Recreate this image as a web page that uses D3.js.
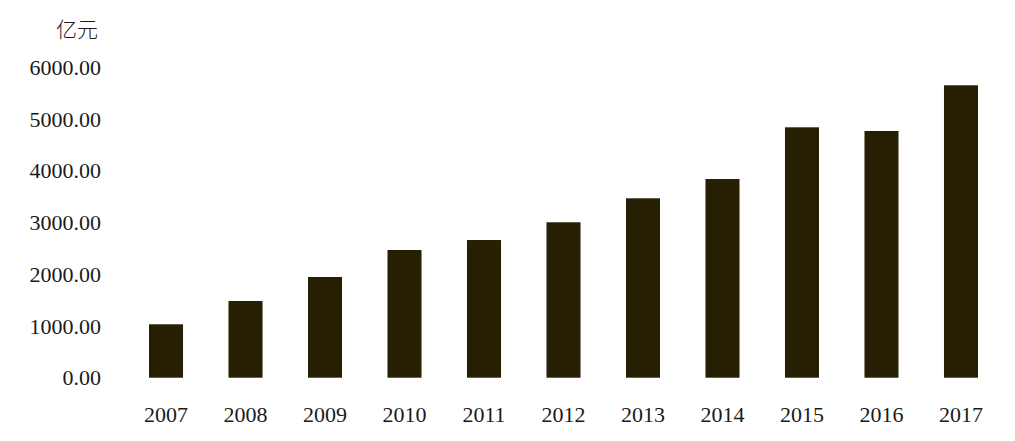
<!DOCTYPE html>
<html><head><meta charset="utf-8">
<script src="https://cdn.jsdelivr.net/npm/d3@7/dist/d3.min.js"></script>
<style>html,body{margin:0;padding:0;background:#fff;}</style>
</head><body>
<svg id="c" width="1015" height="441"></svg>
<script>
const years = ["2007","2008","2009","2010","2011","2012","2013","2014","2015","2016","2017"];
const values = [1033, 1484, 1948, 2470, 2663, 3006, 3470, 3843, 4843, 4772, 5656];
const yTicks = [0, 1000, 2000, 3000, 4000, 5000, 6000];
const unitLabel = "亿元";

const svg = d3.select("#c");
const x = d3.scaleBand().domain(years).range([149, 978]).paddingInner(0.572).paddingOuter(0);
const y = d3.scaleLinear().domain([0, 6000]).range([377.7, 67.5]);

svg.append("g").selectAll("rect").data(values).join("rect")
  .attr("x", (d, i) => x(years[i]))
  .attr("width", x.bandwidth())
  .attr("y", d => y(d))
  .attr("height", d => y(0) - y(d))
  .attr("fill", "#261f04");

const yAxis = svg.append("g").attr("transform", "translate(101,0)")
  .call(d3.axisLeft(y).tickValues(yTicks).tickFormat(d3.format(".2f")).tickSize(0).tickPadding(0));
yAxis.select(".domain").remove();
yAxis.selectAll("text").attr("font-family", "'Liberation Serif', serif").attr("font-size", 22).attr("fill", "#1a1a1a").attr("dy", "0.32em");

const xAxis = svg.append("g").attr("transform", "translate(0,406)")
  .call(d3.axisBottom(x).tickSize(0).tickPadding(0));
xAxis.select(".domain").remove();
xAxis.selectAll("text").attr("font-family", "'Liberation Serif', serif").attr("font-size", 22).attr("fill", "#1a1a1a").attr("dy", "0.71em");

svg.append("text").attr("x", 98).attr("y", 37).attr("text-anchor", "end")
  .attr("font-family", "'Noto Sans CJK SC', sans-serif").attr("font-weight", 300).attr("font-size", 21).attr("fill", "#1a1a1a")
  .text(unitLabel);
</script>
</body></html>
